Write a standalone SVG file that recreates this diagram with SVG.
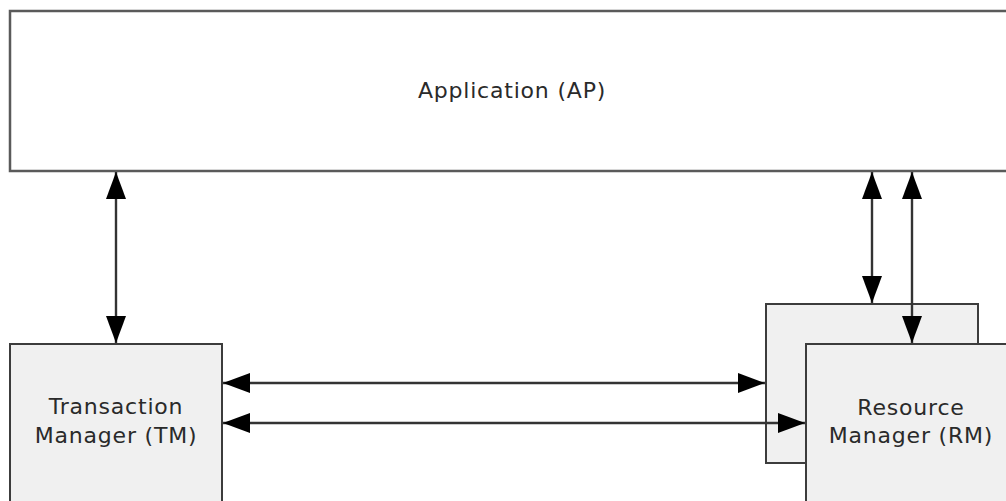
<svg xmlns="http://www.w3.org/2000/svg" width="1006" height="501" viewBox="0 0 1006 501">
<style>
.box{fill:#ffffff;stroke:#5a5a5a;stroke-width:2.5}
.gbox{fill:#f0f0f0;stroke:#3c3c3c;stroke-width:2}
.lbl{font-family:"DejaVu Sans",Verdana,sans-serif;font-size:22px;letter-spacing:0.8px;fill:#2a2a2a;text-anchor:middle}
.con{stroke:#333333;stroke-width:2.4;fill:none;marker-start:url(#ah);marker-end:url(#ah)}
</style>
<defs>
<marker id="ah" markerUnits="userSpaceOnUse" markerWidth="27" markerHeight="20" refX="27" refY="10" orient="auto-start-reverse" viewBox="0 0 27 20">
<path d="M0,0 L27,10 L0,20 z" fill="#000000"/>
</marker>
</defs>
<g id="ap">
<rect class="box" x="10" y="11" width="1006" height="160"/>
<text class="lbl" x="512" y="98">Application (AP)</text>
</g>
<g id="tm">
<rect class="gbox" x="10" y="344" width="212" height="170"/>
<text class="lbl" x="116" y="414">Transaction</text>
<text class="lbl" x="116" y="443">Manager (TM)</text>
</g>
<g id="rm-back">
<rect class="gbox" x="766" y="304" width="212" height="159"/>
</g>
<g id="rm">
<rect class="gbox" x="806" y="344" width="212" height="170"/>
<text class="lbl" x="911" y="415">Resource</text>
<text class="lbl" x="911" y="443">Manager (RM)</text>
</g>
<g id="connectors">
<line class="con" x1="116" y1="172" x2="116" y2="343"/>
<line class="con" x1="872" y1="172" x2="872" y2="303"/>
<line class="con" x1="912" y1="172" x2="912" y2="343"/>
<line class="con" x1="223" y1="383" x2="765" y2="383"/>
<line class="con" x1="223" y1="423" x2="805" y2="423"/>
</g>
</svg>
